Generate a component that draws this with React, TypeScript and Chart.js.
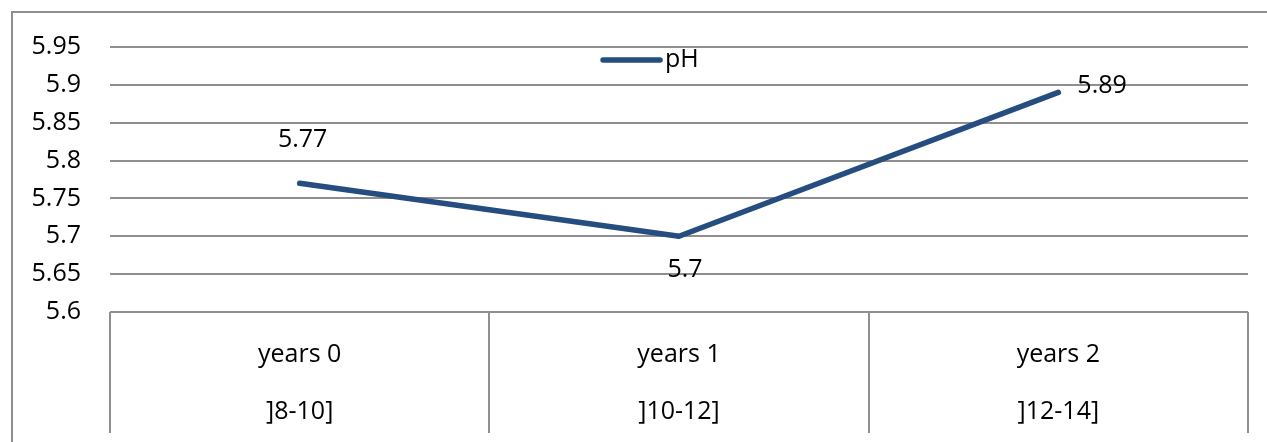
import React, { useEffect, useRef } from 'react';
import { Chart, registerables } from 'chart.js';

Chart.register(...registerables);

const yearLabels = ['years 0', 'years 1', 'years 2'];
const rangeLabels = [']8-10]', ']10-12]', ']12-14]'];
const phValues = [5.77, 5.7, 5.89];
const yTickValues = [5.6, 5.65, 5.7, 5.75, 5.8, 5.85, 5.9, 5.95];
const seriesName = 'pH';
const labelPlacement = ['top', 'bottom', 'right'];

const FONT = "'Open Sans', sans-serif";
const GRID = '#8f8f8f';
const LINE = '#254d7f';
const TEXT = '#000000';
const FONT_SIZE = 25;

export default function App() {
  const ref = useRef<HTMLCanvasElement>(null);

  useEffect(() => {
    const canvas = ref.current!;

    const framePlugin = {
      id: 'frame',
      beforeDraw(chart: any) {
        const ctx = chart.ctx;
        ctx.save();
        ctx.fillStyle = '#ffffff';
        ctx.fillRect(0, 0, chart.width, chart.height);
        ctx.strokeStyle = GRID;
        ctx.lineWidth = 2;
        ctx.beginPath();
        ctx.moveTo(12, chart.height);
        ctx.lineTo(12, 12);
        ctx.lineTo(chart.width, 12);
        ctx.stroke();
        ctx.restore();
      },
    };

    const dataLabelPlugin = {
      id: 'dataLabels',
      afterDatasetsDraw(chart: any) {
        const ctx = chart.ctx;
        const meta = chart.getDatasetMeta(0);
        const values = chart.data.datasets[0].data as number[];
        ctx.save();
        ctx.font = `${FONT_SIZE}px ${FONT}`;
        ctx.fillStyle = TEXT;
        ctx.textBaseline = 'middle';
        meta.data.forEach((pt: any, i: number) => {
          const txt = String(values[i]);
          const pos = labelPlacement[i];
          if (pos === 'top') {
            ctx.textAlign = 'center';
            ctx.fillText(txt, pt.x + 3, pt.y - 43);
          } else if (pos === 'bottom') {
            ctx.textAlign = 'center';
            ctx.fillText(txt, pt.x + 6, pt.y + 34);
          } else {
            ctx.textAlign = 'left';
            ctx.fillText(txt, pt.x + 19, pt.y - 7);
          }
        });
        ctx.restore();
      },
    };

    const legendPlugin = {
      id: 'customLegend',
      afterDraw(chart: any) {
        const ctx = chart.ctx;
        const area = chart.chartArea;
        const ds = chart.data.datasets[0];
        const x0 = area.left + (area.right - area.left) * 0.4315;
        const y = area.top + 13;
        ctx.save();
        ctx.strokeStyle = ds.borderColor;
        ctx.lineWidth = 5.5;
        ctx.lineCap = 'round';
        ctx.beginPath();
        ctx.moveTo(x0 + 2, y);
        ctx.lineTo(x0 + 59, y);
        ctx.stroke();
        ctx.font = `${FONT_SIZE}px ${FONT}`;
        ctx.fillStyle = TEXT;
        ctx.textAlign = 'left';
        ctx.textBaseline = 'middle';
        ctx.fillText(ds.label, x0 + 64, y);
        ctx.restore();
      },
    };

    const chart = new Chart(canvas, {
      type: 'line',
      data: {
        labels: yearLabels.map((yl, i) => [yl, rangeLabels[i]]),
        datasets: [
          {
            label: seriesName,
            data: phValues,
            borderColor: LINE,
            backgroundColor: LINE,
            borderWidth: 5.5,
            borderCapStyle: 'round',
            borderJoinStyle: 'round',
            pointRadius: 0,
            pointHoverRadius: 0,
            tension: 0,
            fill: false,
          },
        ],
      },
      options: {
        responsive: false,
        animation: false,
        devicePixelRatio: 1,
        layout: { padding: { left: 0, top: 47, right: 19, bottom: 9 } },
        plugins: {
          legend: { display: false },
          tooltip: { enabled: false },
        },
        scales: {
          x: {
            type: 'category',
            offset: true,
            grid: {
              offset: true,
              drawOnChartArea: false,
              drawTicks: true,
              tickLength: 121,
              color: GRID,
              lineWidth: 2,
            },
            border: { display: false },
            ticks: {
              font: { family: FONT, size: FONT_SIZE, lineHeight: 57 / FONT_SIZE },
              color: TEXT,
              padding: -106.5,
              maxRotation: 0,
              minRotation: 0,
              autoSkip: false,
            },
            afterFit: (s: any) => {
              s.height = 121;
            },
          },
          y: {
            type: 'linear',
            min: 5.6,
            max: 5.95,
            afterBuildTicks: (s: any) => {
              s.ticks = yTickValues.map((v) => ({ value: v }));
            },
            ticks: {
              font: { family: FONT, size: FONT_SIZE },
              color: TEXT,
              padding: 29,
              callback: (v: any) => String(parseFloat(Number(v).toFixed(2))),
            },
            grid: { color: GRID, lineWidth: 2, drawTicks: false },
            border: { display: false },
            afterFit: (s: any) => {
              s.width = 110;
            },
          },
        },
      },
      plugins: [framePlugin, dataLabelPlugin, legendPlugin],
    } as any);

    return () => chart.destroy();
  }, []);

  return (
    <div style={{ position: 'fixed', left: 0, top: 0, width: 1267, height: 442, background: '#fff' }}>
      <canvas ref={ref} width={1267} height={442} style={{ display: 'block', width: 1267, height: 442 }} />
    </div>
  );
}
